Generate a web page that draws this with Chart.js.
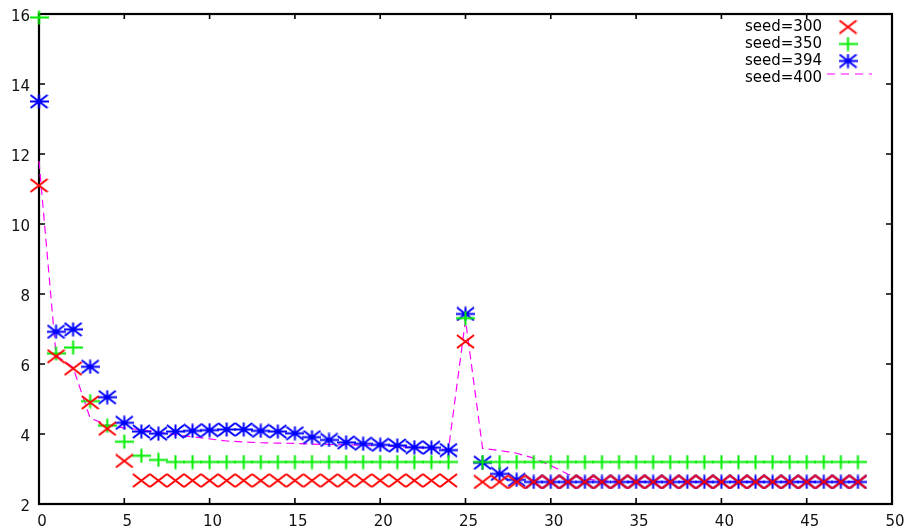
<!DOCTYPE html>
<html>
<head>
<meta charset="utf-8">
<title>seed runs</title>
<script src="https://cdn.jsdelivr.net/npm/chart.js@4.4.1/dist/chart.umd.min.js"></script>
<style>
  html, body { margin: 0; padding: 0; background: #fff; }
  #wrap { position: relative; width: 907px; height: 530px; }
</style>
</head>
<body>
<div id="wrap"><canvas id="plot"></canvas></div>
<script>
/* ── seed runs — gnuplot-style points plot ── */

// ── Data ──

const steps = [0, 1, 2, 3, 4, 5, 6, 7, 8, 9, 10, 11, 12, 13, 14, 15, 16, 17, 18, 19, 20, 21, 22, 23, 24,
  25, 26, 27, 28, 29, 30, 31, 32, 33, 34, 35, 36, 37, 38, 39, 40, 41, 42, 43, 44, 45, 46, 47, 48];

const seed300 = [11.1, 6.22, 5.87, 4.9, 4.15, 3.23,
  2.67, 2.67, 2.67, 2.67, 2.67, 2.67, 2.67, 2.67, 2.67, 2.67, 2.67, 2.67, 2.67, 2.67, 2.67, 2.67, 2.67, 2.67, 2.67,
  6.64,
  2.63, 2.63, 2.63, 2.63, 2.63, 2.63, 2.63, 2.63, 2.63, 2.63, 2.63, 2.63, 2.63, 2.63, 2.63, 2.63, 2.63, 2.63, 2.63, 2.63, 2.63, 2.63, 2.63];

const seed350 = [15.9, 6.3, 6.47, 4.94, 4.24, 3.78, 3.38, 3.26,
  3.2, 3.2, 3.2, 3.2, 3.2, 3.2, 3.2, 3.2, 3.2, 3.2, 3.2, 3.2, 3.2, 3.2, 3.2, 3.2, 3.2,
  7.31,
  3.2, 3.2, 3.2, 3.2, 3.2, 3.2, 3.2, 3.2, 3.2, 3.2, 3.2, 3.2, 3.2, 3.2, 3.2, 3.2, 3.2, 3.2, 3.2, 3.2, 3.2, 3.2, 3.2];

const seed394 = [13.5, 6.92, 6.99, 5.92, 5.05, 4.32, 4.07, 4.01, 4.07, 4.09, 4.11, 4.13, 4.13, 4.09, 4.07, 4.02,
  3.91, 3.83, 3.76, 3.72, 3.69, 3.67, 3.62, 3.61, 3.54,
  7.43, 3.18, 2.86, 2.69,
  2.63, 2.63, 2.63, 2.63, 2.63, 2.63, 2.63, 2.63, 2.63, 2.63, 2.63, 2.63, 2.63, 2.63, 2.63, 2.63, 2.63, 2.63, 2.63, 2.63];

const seed400 = [11.8, 6.25, 5.9, 4.45, 4.26, 4.17, 4.12, 4.05, 3.98, 3.92, 3.86, 3.8, 3.77, 3.75, 3.74, 3.73,
  3.71, 3.7, 3.69, 3.68, 3.66, 3.64, 3.61, 3.58, 3.55,
  7.26, 3.59, 3.53, 3.45, 3.31, 3.1, 2.85, 2.72, 2.66,
  2.64, 2.64, 2.64, 2.64, 2.64, 2.64, 2.64, 2.64, 2.64, 2.64, 2.64, 2.64, 2.64, 2.64, 2.64];

const xTicks = [0, 5, 10, 15, 20, 25, 30, 35, 40, 45, 50];
const yTicks = [2, 4, 6, 8, 10, 12, 14, 16];

const labels = ['seed=300', 'seed=350', 'seed=394', 'seed=400'];

// ── Markers (gnuplot x, +, *) ──

function marker(kind, color) {
  const c = document.createElement('canvas');
  c.width = 19; c.height = 15;
  const g = c.getContext('2d');
  g.strokeStyle = color;
  g.lineWidth = 2;
  g.beginPath();
  if (kind === 'x' || kind === 'star') {
    g.moveTo(1, 1); g.lineTo(18, 14);
    g.moveTo(1, 14); g.lineTo(18, 1);
  }
  if (kind === '+' || kind === 'star') {
    g.moveTo(0, 7.5); g.lineTo(19, 7.5);
    g.moveTo(9.5, 0.5); g.lineTo(9.5, 14.5);
  }
  g.stroke();
  return c;
}

const mX = marker('x', '#ff0000');
const mPlus = marker('+', '#00ee00');
const mStar = marker('star', '#0000ff');

const pts = ys => ys.map((y, i) => ({ x: steps[i], y }));

// ── Frame: box + inward ticks on all four sides ──

const frame = {
  id: 'frame',
  beforeDatasetsDraw(chart) {
    const { ctx, chartArea: a, scales } = chart;
    ctx.save();
    ctx.strokeStyle = '#000';
    ctx.lineWidth = 1.6;
    ctx.beginPath();
    xTicks.forEach(v => {
      const px = scales.x.getPixelForValue(v);
      ctx.moveTo(px, a.bottom); ctx.lineTo(px, a.bottom - 6);
      ctx.moveTo(px, a.top); ctx.lineTo(px, a.top + 5);
    });
    yTicks.forEach(v => {
      const py = scales.y.getPixelForValue(v);
      ctx.moveTo(a.left, py); ctx.lineTo(a.left + 6, py);
      ctx.moveTo(a.right, py); ctx.lineTo(a.right - 6, py);
    });
    ctx.stroke();
    ctx.lineWidth = 2.2;
    ctx.strokeRect(a.left, a.top, a.right - a.left, a.bottom - a.top);
    ctx.restore();
  }
};

// ── Key, top right, text right-aligned with the sample after it ──

const key = {
  id: 'key',
  afterDraw(chart) {
    const { ctx } = chart;
    const samples = [mX, mPlus, mStar, null];
    ctx.save();
    ctx.font = '15px "DejaVu Sans"';
    ctx.fillStyle = '#000';
    ctx.textAlign = 'right';
    ctx.textBaseline = 'middle';
    labels.forEach((t, i) => {
      const y = 27 + i * 17;
      ctx.fillText(t, 822, y);
      if (samples[i]) {
        ctx.drawImage(samples[i], 848 - 9.5, y - 7.5);
      } else {
        ctx.strokeStyle = '#ff00ff';
        ctx.lineWidth = 1.2;
        ctx.setLineDash([8, 6]);
        ctx.beginPath();
        ctx.moveTo(827, y - 4); ctx.lineTo(872, y - 4);
        ctx.stroke();
      }
    });
    ctx.restore();
  }
};

// ── Chart ──

const font = { family: '"DejaVu Sans", sans-serif', size: 15 };

new Chart(document.getElementById('plot'), {
  type: 'line',
  data: {
    datasets: [
      { label: labels[0], data: pts(seed300), showLine: false, pointStyle: mX, pointRadius: 8, clip: false },
      { label: labels[1], data: pts(seed350), showLine: false, pointStyle: mPlus, pointRadius: 8, clip: false },
      { label: labels[2], data: pts(seed394), showLine: false, pointStyle: mStar, pointRadius: 8, clip: false },
      { label: labels[3], data: pts(seed400), borderColor: '#ff00ff', borderWidth: 1.2, borderDash: [8, 5],
        pointRadius: 0, tension: 0, fill: false, clip: false }
    ]
  },
  options: {
    responsive: true,
    maintainAspectRatio: false,
    animation: false,
    events: [],
    layout: { padding: { top: 14, right: 15, left: 0, bottom: 0 } },
    plugins: { legend: { display: false }, tooltip: { enabled: false } },
    scales: {
      x: {
        type: 'linear', min: 0, max: 50,
        afterBuildTicks: s => { s.ticks = xTicks.map(v => ({ value: v })); },
        afterFit: s => { s.height = 26; s.paddingLeft = 0; s.paddingRight = 0; },
        grid: { display: false, drawTicks: false },
        border: { display: false },
        ticks: { font, color: '#111', padding: 9, labelOffset: 3, maxRotation: 0, autoSkip: false }
      },
      y: {
        type: 'linear', min: 2, max: 16,
        afterBuildTicks: s => { s.ticks = yTicks.map(v => ({ value: v })); },
        afterFit: s => { s.width = 39; s.paddingTop = 0; s.paddingBottom = 0; },
        grid: { display: false, drawTicks: false },
        border: { display: false },
        ticks: { font, color: '#111', padding: 9, labelOffset: 3, autoSkip: false }
      }
    }
  },
  plugins: [frame, key]
});
</script>
</body>
</html>
